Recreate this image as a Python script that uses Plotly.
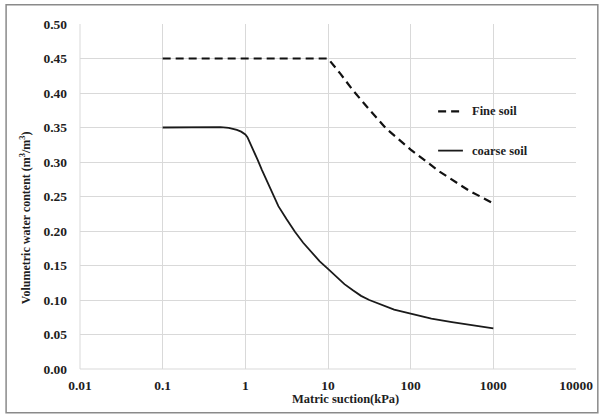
import plotly.graph_objects as go

# Data
fine_suction = [0.1, 1, 10, 14.1, 20, 31.6, 50, 100, 224, 500, 1000]
fine_theta = [0.45, 0.45, 0.45, 0.428, 0.404, 0.376, 0.349, 0.318, 0.286, 0.259, 0.240]

coarse_suction = [0.1, 0.2, 0.32, 0.5, 0.63, 0.71, 0.79, 0.89, 1.0, 1.06, 1.12, 1.19, 1.26, 1.41, 1.58, 1.78, 2.0, 2.24, 2.51, 3.16, 3.98, 5.01, 6.31, 7.94, 10,
                  12.6, 15.8, 20, 25.1, 31.6, 39.8, 50.1, 63.1, 79.4, 100, 178, 316, 562, 1000]
coarse_theta = [0.350, 0.350, 0.351, 0.3505, 0.3495, 0.348, 0.3465, 0.344, 0.340, 0.336, 0.330, 0.324, 0.317, 0.303, 0.289, 0.275, 0.261, 0.248, 0.236, 0.217, 0.199, 0.183, 0.169, 0.156, 0.145,
                0.134, 0.123, 0.114, 0.106, 0.100, 0.095, 0.090, 0.086, 0.083, 0.080, 0.073, 0.068, 0.063, 0.059]

x_tickvals = [0.01, 0.1, 1, 10, 100, 1000, 10000]
x_ticktext = ["0.01", "0.1", "1", "10", "100", "1000", "10000"]
y_tickvals = [0.0, 0.05, 0.10, 0.15, 0.20, 0.25, 0.30, 0.35, 0.40, 0.45, 0.50]
y_ticktext = ["0.00", "0.05", "0.10", "0.15", "0.20", "0.25", "0.30", "0.35", "0.40", "0.45", "0.50"]

serif = "Liberation Serif, Times New Roman, serif"
ink = "#1e1e1e"

fig = go.Figure()
fig.add_trace(go.Scatter(x=fine_suction, y=fine_theta, mode="lines", name="Fine soil",
                         line=dict(color="#111111", width=2.2, dash="8px,5px"), showlegend=False))
fig.add_trace(go.Scatter(x=coarse_suction, y=coarse_theta, mode="lines", name="coarse soil",
                         line=dict(color="#1a1a1a", width=1.8), showlegend=False))

fig.update_layout(
    width=604, height=419,
    margin=dict(l=80, r=28, t=24, b=50),
    paper_bgcolor="white", plot_bgcolor="white",
    font=dict(family=serif, size=13, color=ink),
    xaxis=dict(type="log", range=[-2, 4], tickvals=x_tickvals,
               ticktext=["<b>%s</b>" % t for t in x_ticktext],
               showgrid=True, gridcolor="#d9d9d9", gridwidth=1, zeroline=False,
               showline=False, ticks="", ticklabelstandoff=6,
               tickfont=dict(family=serif, size=13.5, color=ink, weight="bold")),
    yaxis=dict(range=[0, 0.5], tickvals=y_tickvals,
               ticktext=["<b>%s</b>" % t for t in y_ticktext],
               showgrid=True, gridcolor="#d9d9d9", gridwidth=1, zeroline=False,
               showline=False, ticks="", ticklabelstandoff=12,
               tickfont=dict(family=serif, size=13.5, color=ink, weight="bold")),
)

# Outer image border
fig.add_shape(type="rect", xref="paper", yref="paper", x0=-0.149, x1=1.044, y0=-0.127, y1=1.056,
              line=dict(color="#8a8a8a", width=1.5), fillcolor="rgba(0,0,0,0)", layer="below")
fig.add_shape(type="line", xref="paper", yref="paper", x0=0, x1=0, y0=0, y1=1,
              line=dict(color="#d9d9d9", width=1), layer="below")
fig.add_shape(type="line", xref="paper", yref="paper", x0=0, x1=1, y0=0, y1=0,
              line=dict(color="#d9d9d9", width=1), layer="below")

# Legend (manual)
fig.add_shape(type="line", xref="paper", yref="paper", x0=0.722, x1=0.772, y0=0.747, y1=0.747,
              line=dict(color="#111111", width=2.2, dash="8px,5px"))
fig.add_shape(type="line", xref="paper", yref="paper", x0=0.722, x1=0.772, y0=0.633, y1=0.633,
              line=dict(color="#1a1a1a", width=1.8))
fig.add_annotation(text="<b>Fine soil</b>", xref="paper", yref="paper", x=0.786, y=0.747,
                   xanchor="left", yanchor="middle", showarrow=False,
                   font=dict(family=serif, size=12.5, color=ink))
fig.add_annotation(text="<b>coarse soil</b>", xref="paper", yref="paper", x=0.786, y=0.633,
                   xanchor="left", yanchor="middle", showarrow=False,
                   font=dict(family=serif, size=12.5, color=ink))

# Axis titles
fig.add_annotation(text="<b>Matric suction(kPa)</b>", xref="paper", yref="paper", x=0.535, y=-0.086,
                   xanchor="center", yanchor="middle", showarrow=False,
                   font=dict(family=serif, size=12.5, color=ink))
fig.add_annotation(text="<b>Volumetric water content (m<sup>3</sup>/m<sup>3</sup>)</b>", xref="paper", yref="paper",
                   x=-0.111, y=0.44, textangle=-90, xanchor="center", yanchor="middle", showarrow=False,
                   font=dict(family=serif, size=12, color=ink))

fig.write_html("out.html")
